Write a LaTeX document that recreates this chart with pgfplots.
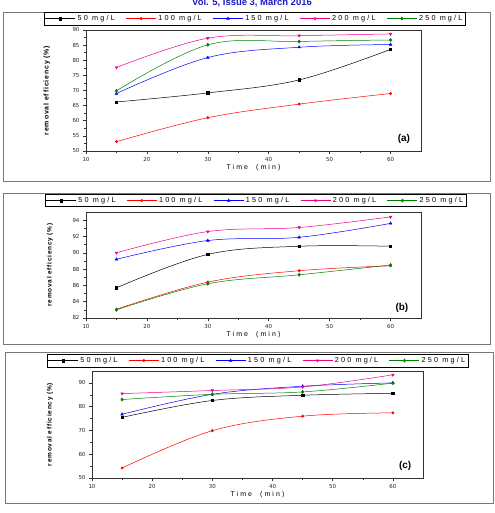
\documentclass[border=0pt]{standalone}
\usepackage{fontspec}
\setmainfont{Liberation Sans}
\newfontfamily\spfont[LetterSpace=30]{Liberation Sans}
\newfontfamily\ylfont[LetterSpace=12]{Liberation Sans}
\newfontfamily\tkfont{DejaVu Sans}
\usepackage{pgfplots}
\pgfplotsset{compat=1.18}
\definecolor{hdrblue}{RGB}{25,25,200}
\definecolor{dgreen}{RGB}{0,128,0}
\definecolor{boxgray}{RGB}{120,120,120}
\pgfplotsset{
  panel/.style={
    scale only axis, anchor=south west,
    xmin=10, xmax=65, xtick={10,20,...,60}, minor x tick num=1,
    minor y tick num=1,
    tick pos=left, tick align=outside,
    major tick length=3bp, minor tick length=1.6bp,
    axis line style={line width=0.7bp, black!80},
    every tick/.style={black!80, line width=0.5bp},
    tick label style={font=\tkfont\fontsize{5.5}{6}\selectfont, black!85},
    /pgf/number format/assume math mode=true,
    xlabel={Time\ \ (min)},
    xlabel style={font=\spfont\fontsize{7}{8}\selectfont, at={(axis description cs:0.5,0)}, anchor=north, yshift=-10bp},
    ylabel={removal efficiency (\%)},
    ylabel style={font=\ylfont\bfseries\fontsize{6.5}{7}\selectfont, anchor=south},
    legend columns=5,
    legend style={draw=black, line width=0.5bp, inner sep=0.8bp, anchor=south,
      font=\spfont\fontsize{7.3}{7.3}\selectfont,
      /tikz/every even column/.append style={column sep=9bp}},
    legend image code/.code={\draw[##1, mark repeat=2, mark phase=2] plot coordinates {(0bp,0bp) (15bp,0bp) (30bp,0bp)};},
    every axis plot/.append style={line width=0.5bp, smooth, tension=0.6},
  },
  sA/.style={black, mark=square*, mark size=1.2bp, mark options={solid}},
  sB/.style={red, mark=*, mark size=1.2bp},
  sC/.style={blue, mark=triangle*, mark size=1.5bp},
  sD/.style={magenta, mark=triangle*, mark size=1.5bp, mark options={rotate=180}},
  sE/.style={dgreen, mark=diamond*, mark size=1.6bp},
}
\begin{document}
\begin{tikzpicture}
\path[use as bounding box] (0bp,0bp) rectangle (495bp,513bp);
\node[font=\bfseries\fontsize{9.5}{10}\selectfont, text=hdrblue, anchor=base] at (252bp,507bp) {Vol. 5, Issue 3, March 2016};
\draw[boxgray, line width=1bp] (3bp,331bp) rectangle (490bp,500bp);
\draw[boxgray, line width=1bp] (3bp,168bp) rectangle (490bp,319bp);
\draw[boxgray, line width=1bp] (5bp,9bp) rectangle (493bp,160bp);

% (a)
\begin{axis}[panel, at={(86bp,362bp)}, width=335bp, height=121bp,
  ymin=50, ymax=90, ytick={50,55,...,90},
  ylabel style={at={(axis description cs:-0.097,0.5)}, font=\ylfont\bfseries\fontsize{7}{7}\selectfont},
  legend style={at={(axis description cs:0.504,1)}, yshift=5bp}]
\addplot[sA] coordinates {(15,66.2)(30,69.2)(45,73.5)(60,83.6)};
\addlegendentry{50 mg/L}
\addplot[sB] coordinates {(15,53.1)(30,61.0)(45,65.5)(60,69.0)};
\addlegendentry{100 mg/L}
\addplot[sC] coordinates {(15,69.0)(30,80.9)(45,84.3)(60,85.2)};
\addlegendentry{150 mg/L}
\addplot[sD] coordinates {(15,77.6)(30,87.3)(45,88.1)(60,88.7)};
\addlegendentry{200 mg/L}
\addplot[sE] coordinates {(15,69.9)(30,85.1)(45,86.2)(60,86.7)};
\addlegendentry{250 mg/L}
\node[font=\bfseries\fontsize{10}{10}\selectfont] at (rel axis cs:0.949,0.103) {(a)};
\end{axis}

% (b)
\begin{axis}[panel, at={(86bp,195bp)}, width=335bp, height=106bp,
  ymin=82, ymax=95, ytick={82,84,...,94},
  ylabel style={at={(axis description cs:-0.088,0.5)}},
  legend style={at={(axis description cs:0.506,1)}, yshift=5bp}]
\addplot[sA] coordinates {(15,85.7)(30,89.8)(45,90.8)(60,90.8)};
\addlegendentry{50 mg/L}
\addplot[sB] coordinates {(15,83.07)(30,86.4)(45,87.8)(60,88.4)};
\addlegendentry{100 mg/L}
\addplot[sC] coordinates {(15,89.2)(30,91.5)(45,91.9)(60,93.6)};
\addlegendentry{150 mg/L}
\addplot[sD] coordinates {(15,90.0)(30,92.6)(45,93.1)(60,94.4)};
\addlegendentry{200 mg/L}
\addplot[sE] coordinates {(15,83.0)(30,86.2)(45,87.3)(60,88.5)};
\addlegendentry{250 mg/L}
\node[font=\bfseries\fontsize{10}{10}\selectfont] at (rel axis cs:0.943,0.094) {(b)};
\end{axis}

% (c)
\begin{axis}[panel, at={(92bp,35bp)}, width=331bp, height=107bp,
  ymin=50, ymax=95, ytick={50,60,...,90},
  ylabel style={at={(axis description cs:-0.107,0.5)}},
  legend style={at={(axis description cs:0.50,1)}, yshift=4bp}]
\addplot[sA] coordinates {(15,75.5)(30,82.6)(45,84.8)(60,85.6)};
\addlegendentry{50 mg/L}
\addplot[sB] coordinates {(15,54.2)(30,69.9)(45,76.0)(60,77.4)};
\addlegendentry{100 mg/L}
\addplot[sC] coordinates {(15,76.8)(30,85.2)(45,88.6)(60,90.0)};
\addlegendentry{150 mg/L}
\addplot[sD] coordinates {(15,85.5)(30,86.8)(45,88.3)(60,93.4)};
\addlegendentry{200 mg/L}
\addplot[sE] coordinates {(15,83.0)(30,85.2)(45,86.2)(60,89.9)};
\addlegendentry{250 mg/L}
\node[font=\bfseries\fontsize{10}{10}\selectfont] at (rel axis cs:0.946,0.112) {(c)};
\end{axis}
\end{tikzpicture}
\end{document}
